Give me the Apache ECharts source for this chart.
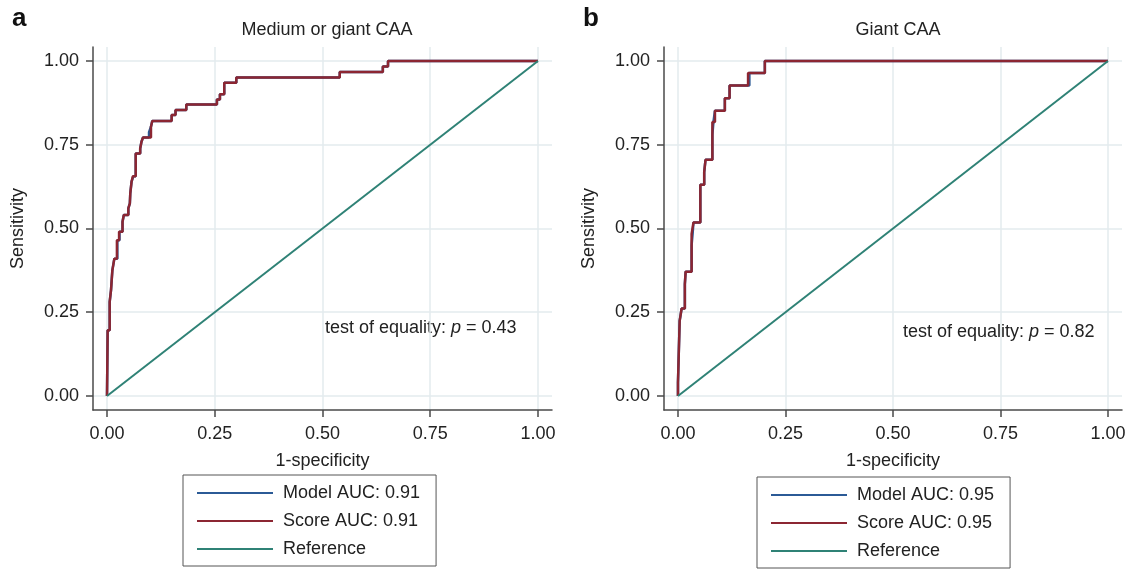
<!DOCTYPE html>
<html>
<head>
<meta charset="utf-8">
<title>ROC curves</title>
<script src="https://cdn.jsdelivr.net/npm/echarts@6/dist/echarts.min.js"></script>
<style>
  html, body { margin: 0; padding: 0; background: #fff; }
  #chart { width: 1131px; height: 569px; }
</style>
</head>
<body>
<div id="chart"></div>
<script>
  // panel a: medium or giant CAA
  const aScoreFpr = [0, 0.0015, 0.0062, 0.0093, 0.0124, 0.017, 0.023, 0.028, 0.036, 0.039, 0.0495, 0.053, 0.054, 0.057, 0.060, 0.0666, 0.077, 0.080, 0.0836, 0.102, 0.105, 0.150, 0.159, 0.184, 0.255, 0.262, 0.272, 0.300, 0.540, 0.640, 0.652, 1];
  const aScoreTpr = [0, 0.196, 0.281, 0.316, 0.375, 0.410, 0.465, 0.490, 0.520, 0.540, 0.560, 0.575, 0.605, 0.640, 0.656, 0.724, 0.739, 0.759, 0.772, 0.804, 0.821, 0.839, 0.854, 0.870, 0.885, 0.901, 0.935, 0.951, 0.967, 0.984, 1, 1];
  const aModelFpr = [0, 0.0015, 0.0062, 0.0093, 0.0124, 0.017, 0.024, 0.029, 0.036, 0.039, 0.0495, 0.053, 0.054, 0.057, 0.061, 0.0666, 0.077, 0.080, 0.0836, 0.0975, 0.102, 0.105, 0.150, 0.159, 0.184, 0.255, 0.262, 0.272, 0.300, 0.540, 0.640, 0.652, 1];
  const aModelTpr = [0, 0.196, 0.281, 0.316, 0.375, 0.410, 0.465, 0.490, 0.520, 0.540, 0.560, 0.575, 0.605, 0.640, 0.656, 0.724, 0.739, 0.759, 0.772, 0.788, 0.804, 0.821, 0.839, 0.854, 0.870, 0.885, 0.901, 0.935, 0.951, 0.967, 0.984, 1, 1];

  // panel b: giant CAA
  const bScoreFpr = [0, 0, 0.0039, 0.0085, 0.016, 0.0178, 0.0317, 0.036, 0.052, 0.061, 0.064, 0.080, 0.086, 0.109, 0.120, 0.163, 0.202, 1];
  const bScoreTpr = [0, 0.04, 0.224, 0.261, 0.334, 0.371, 0.484, 0.518, 0.631, 0.668, 0.705, 0.818, 0.852, 0.889, 0.927, 0.964, 1, 1];
  const bModelFpr = [0, 0, 0.0039, 0.0085, 0.016, 0.0178, 0.0317, 0.034, 0.036, 0.052, 0.061, 0.064, 0.080, 0.0825, 0.086, 0.109, 0.120, 0.166, 0.202, 1];
  const bModelTpr = [0, 0.04, 0.224, 0.261, 0.334, 0.371, 0.450, 0.484, 0.518, 0.631, 0.668, 0.705, 0.780, 0.818, 0.852, 0.889, 0.927, 0.964, 1, 1];

  const refFpr = [0, 1];
  const refTpr = [0, 1];

  const ticks = [0, 0.25, 0.5, 0.75, 1];
  const titles = ['Medium or giant CAA', 'Giant CAA'];
  const aucA = { model: 0.91, score: 0.91, p: 0.43 };
  const aucB = { model: 0.95, score: 0.95, p: 0.82 };

  const FONT = '"Liberation Sans", Arial, Helvetica, sans-serif';
  const BLUE = '#2b5a96';
  const RED = '#8c2632';
  const TEAL = '#2f8276';
  const AXIS = '#4a4a4a';

  function zip(xs, ys) {
    return xs.map(function (x, i) { return [x, ys[i]]; });
  }

  function xAxis(idx) {
    return {
      type: 'value', gridIndex: idx, min: -0.0325, max: 1.0325,
      name: '1-specificity', nameLocation: 'middle', nameGap: 42,
      nameTextStyle: { fontSize: 18, color: '#222', fontFamily: FONT },
      axisLine: { show: true, onZero: false, lineStyle: { color: AXIS, width: 1.5 } },
      axisTick: { show: true, length: 7, customValues: ticks, lineStyle: { color: AXIS, width: 1.5 } },
      axisLabel: { customValues: ticks, margin: 15, fontSize: 18, color: '#222', fontFamily: FONT,
        formatter: function (v) { return v.toFixed(2); } },
      splitLine: { show: true, lineStyle: { color: '#e3ebee', width: 1.5 } }
    };
  }

  function yAxis(idx) {
    return {
      type: 'value', gridIndex: idx, min: -0.042, max: 1.042,
      name: 'Sensitivity', nameLocation: 'middle', nameGap: 66,
      nameTextStyle: { fontSize: 18, color: '#222', fontFamily: FONT },
      axisLine: { show: true, onZero: false, lineStyle: { color: AXIS, width: 1.5 } },
      axisTick: { show: true, length: 7, customValues: ticks, lineStyle: { color: AXIS, width: 1.5 } },
      axisLabel: { customValues: ticks, margin: 14, fontSize: 18, color: '#222', fontFamily: FONT,
        formatter: function (v) { return v.toFixed(2); } },
      splitLine: { show: true, lineStyle: { color: '#e3ebee', width: 1.5 } }
    };
  }

  function rocSeries(name, idx, xs, ys, color, width, step) {
    return {
      name: name, type: 'line', xAxisIndex: idx, yAxisIndex: idx,
      data: zip(xs, ys), step: step, symbol: 'none',
      lineStyle: { color: color, width: width }, itemStyle: { color: color },
      emphasis: { disabled: true }
    };
  }

  function legend(left, top, names) {
    return {
      orient: 'vertical', left: left, top: top, data: names,
      icon: 'rect', padding: [9, 16, 8, 14], itemGap: 10, itemWidth: 76, itemHeight: 2,
      borderColor: '#555', borderWidth: 1, selectedMode: false,
      textStyle: { fontSize: 18, color: '#222', fontFamily: FONT, padding: [0, 0, 0, 5] }
    };
  }

  const nameA = ['Model AUC: ' + aucA.model.toFixed(2), 'Score AUC: ' + aucA.score.toFixed(2), 'Reference'];
  const nameB = ['Model AUC: ' + aucB.model.toFixed(2), 'Score AUC: ' + aucB.score.toFixed(2), 'Reference'];

  const chart = echarts.init(document.getElementById('chart'));
  chart.setOption({
    animation: false,
    backgroundColor: '#fff',
    title: [
      { text: titles[0], left: 322, top: 16, textAlign: 'center',
        textStyle: { fontSize: 18, fontWeight: 'normal', color: '#222', fontFamily: FONT } },
      { text: titles[1], left: 893, top: 16, textAlign: 'center',
        textStyle: { fontSize: 18, fontWeight: 'normal', color: '#222', fontFamily: FONT } }
    ],
    grid: [
      { left: 93, top: 47, width: 459, height: 363 },
      { left: 664, top: 47, width: 458, height: 363 }
    ],
    xAxis: [xAxis(0), xAxis(1)],
    yAxis: [yAxis(0), yAxis(1)],
    legend: [legend(183, 475, nameA), legend(757, 477, nameB)],
    series: [
      rocSeries(nameA[0], 0, aModelFpr, aModelTpr, BLUE, 2.5, 'end'),
      rocSeries(nameA[1], 0, aScoreFpr, aScoreTpr, RED, 2.5, 'end'),
      rocSeries('Reference', 0, refFpr, refTpr, TEAL, 2, false),
      rocSeries(nameB[0], 1, bModelFpr, bModelTpr, BLUE, 2.5, 'end'),
      rocSeries(nameB[1], 1, bScoreFpr, bScoreTpr, RED, 2.5, 'end'),
      rocSeries('Reference', 1, refFpr, refTpr, TEAL, 2, false)
    ],
    graphic: [
      { type: 'text', left: 12, top: 6, style: { text: 'a', fontSize: 26, fontWeight: 'bold', fill: '#111', fontFamily: FONT } },
      { type: 'text', left: 583, top: 6, style: { text: 'b', fontSize: 26, fontWeight: 'bold', fill: '#111', fontFamily: FONT } },
      { type: 'text', left: 325, top: 319, style: {
          text: '{n|test of equality: }{i|p}{n| = ' + aucA.p.toFixed(2) + '}',
          rich: { n: { fontSize: 18, fill: '#222', fontFamily: FONT }, i: { fontSize: 18, fontStyle: 'italic', fill: '#222', fontFamily: FONT } } } },
      { type: 'text', left: 903, top: 323, style: {
          text: '{n|test of equality: }{i|p}{n| = ' + aucB.p.toFixed(2) + '}',
          rich: { n: { fontSize: 18, fill: '#222', fontFamily: FONT }, i: { fontSize: 18, fontStyle: 'italic', fill: '#222', fontFamily: FONT } } } }
    ]
  });
</script>
</body>
</html>
